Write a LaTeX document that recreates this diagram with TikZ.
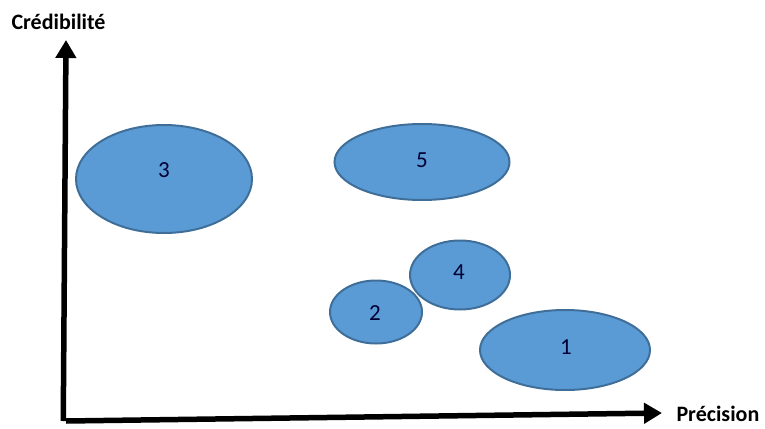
\documentclass[tikz,border=0pt]{standalone}
\usepackage{fontspec}
\setmainfont{Carlito}
\usetikzlibrary{arrows.meta,shapes.geometric}
\definecolor{blobfill}{HTML}{5B9BD5}
\definecolor{blobline}{HTML}{3F6E98}
\begin{document}
\begin{tikzpicture}[x=1pt,y=-1pt,
  blob/.style={ellipse,draw=blobline,fill=blobfill,line width=2pt,inner sep=0pt},
  num/.style={font=\fontsize{23}{27}\selectfont,text=black!80!blue},
  axis/.style={line width=5.5pt,-{Triangle[width=20pt,length=18pt]}},
  axlabel/.style={font=\bfseries\fontsize{22}{26}\selectfont}]
\useasboundingbox (0,0) rectangle (765,428);
\node[blob,minimum width=176pt,minimum height=108pt] (e3) at (164,179) {};
\node[num] (t3) at (164,170) {3};
\node[blob,minimum width=175pt,minimum height=76pt] (e5) at (422,162) {};
\node[num] (t5) at (422,160) {5};
\node[blob,minimum width=100pt,minimum height=69pt] (e4) at (460,275) {};
\node[num] (t4) at (459,272) {4};
\node[blob,minimum width=92pt,minimum height=63pt] (e2) at (376,312) {};
\node[num] (t2) at (375,313) {2};
\node[blob,minimum width=170pt,minimum height=80pt] (e1) at (565,350) {};
\node[num] (t1) at (566,347) {1};
\coordinate (o) at (66,421);
\coordinate (ytop) at (66,40);
\coordinate (xend) at (662,413);
\draw[axis] ([xshift=-2.75pt]o) -- (ytop);
\draw[axis] (o) -- (xend);
\node[axlabel,anchor=west] (yl) at (8,22) {Crédibilité};
\node[axlabel,anchor=west] (xl) at (673,414) {Précision};
\end{tikzpicture}
\end{document}
